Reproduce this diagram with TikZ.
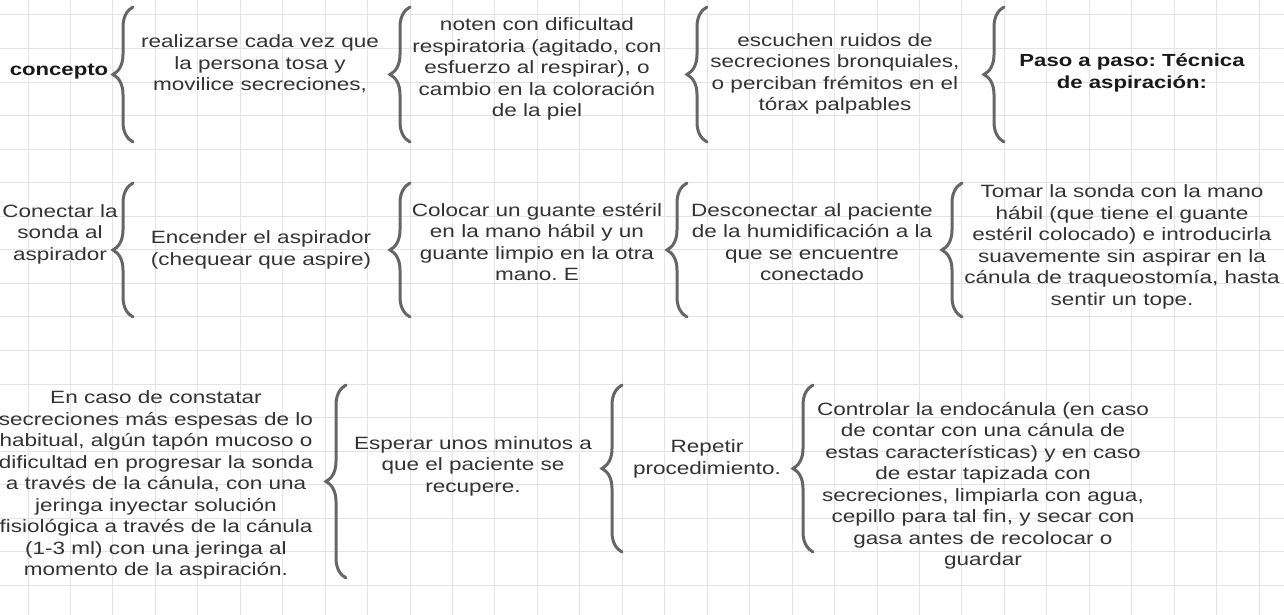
\documentclass[tikz,border=0pt]{standalone}
\usepackage{fontspec}
\setmainfont{Liberation Sans}[FakeStretch=1.265]
\usepackage{xcolor}
\usetikzlibrary{decorations.pathreplacing}

\definecolor{inkgray}{HTML}{333333}
\definecolor{bracegray}{HTML}{666666}
\definecolor{gridgray}{HTML}{E4E4E4}

\frenchspacing

\begin{document}
\begin{tikzpicture}[
    x=1pt, y=-1pt,
    note/.style={align=center, text=inkgray, inner sep=0pt, font=\fontsize{17.8}{21.5}\selectfont},
    title/.style={align=center, text=black!90, inner sep=0pt, font=\fontsize{17.5}{21.5}\selectfont\bfseries},
    curly/.style={draw=bracegray, line width=3pt, line cap=round, decorate, decoration={brace, amplitude=20pt}},
    gridline/.style={draw=gridgray, line width=1pt}
]
    \useasboundingbox (0,0) rectangle (1284,615);
    \fill[white] (0,0) rectangle (1284,615);

    % Background grid
    \foreach \gx in {0,...,29} \draw[gridline] ({28+42.45*\gx},0) -- ({28+42.45*\gx},615);
    \foreach \gy in {0,...,17} \draw[gridline] (0,{15+33.55*\gy}) -- (1284,{15+33.55*\gy});

    % Row 1: when to aspirate
    \node[title] (concepto) at (59,72) {concepto};
    \node[note] (cada) at (260,64) {realizarse cada vez que\\la persona tosa y\\movilice secreciones,};
    \node[note] (dificultad) at (537,69) {noten con dificultad\\respiratoria (agitado, con\\esfuerzo al respirar), o\\cambio en la coloración\\de la piel};
    \node[note] (ruidos) at (835,74) {escuchen ruidos de\\secreciones bronquiales,\\o perciban frémitos en el\\tórax palpables};
    \node[title] (paso) at (1132,73) {Paso a paso: Técnica\\de aspiración:};

    \draw[curly] (133,142) -- (133,7);
    \draw[curly] (410,142) -- (410,7);
    \draw[curly] (707,142) -- (707,7);
    \draw[curly] (1004,142) -- (1004,7);

    % Row 2: first steps
    \node[note] (conectar) at (60,234) {Conectar la\\sonda al\\aspirador};
    \node[note] (encender) at (261,250) {Encender el aspirador\\(chequear que aspire)};
    \node[note] (guante) at (537,242) {Colocar un guante estéril\\en la mano hábil y un\\guante limpio en la otra\\mano. E};
    \node[note] (desconectar) at (812,242) {Desconectar al paciente\\de la humidificación a la\\que se encuentre\\conectado};
    \node[note] (sonda) at (1122,247) {Tomar la sonda con la mano\\hábil (que tiene el guante\\estéril colocado) e introducirla\\suavemente sin aspirar en la\\cánula de traqueostomía, hasta\\sentir un tope.};

    \draw[curly] (133,317) -- (133,183);
    \draw[curly] (410,317) -- (410,183);
    \draw[curly] (687,317) -- (687,183);
    \draw[curly] (962,317) -- (962,183);

    % Row 3: closing steps
    \node[note] (secreciones) at (156,485) {En caso de constatar\\secreciones más espesas de lo\\habitual, algún tapón mucoso o\\dificultad en progresar la sonda\\a través de la cánula, con una\\jeringa inyectar solución\\fisiológica a través de la cánula\\(1-3 ml) con una jeringa al\\momento de la aspiración.};
    \node[note] (esperar) at (473,466) {Esperar unos minutos a\\que el paciente se\\recupere.};
    \node[note] (repetir) at (707,459) {Repetir\\procedimiento.};
    \node[note] (endocanula) at (983,486) {Controlar la endocánula (en caso\\de contar con una cánula de\\estas características) y en caso\\de estar tapizada con\\secreciones, limpiarla con agua,\\cepillo para tal fin, y secar con\\gasa antes de recolocar o\\guardar};

    \draw[curly] (346,578) -- (346,385);
    \draw[curly] (622,552) -- (622,385);
    \draw[curly] (813,552) -- (813,385);
\end{tikzpicture}
\end{document}
